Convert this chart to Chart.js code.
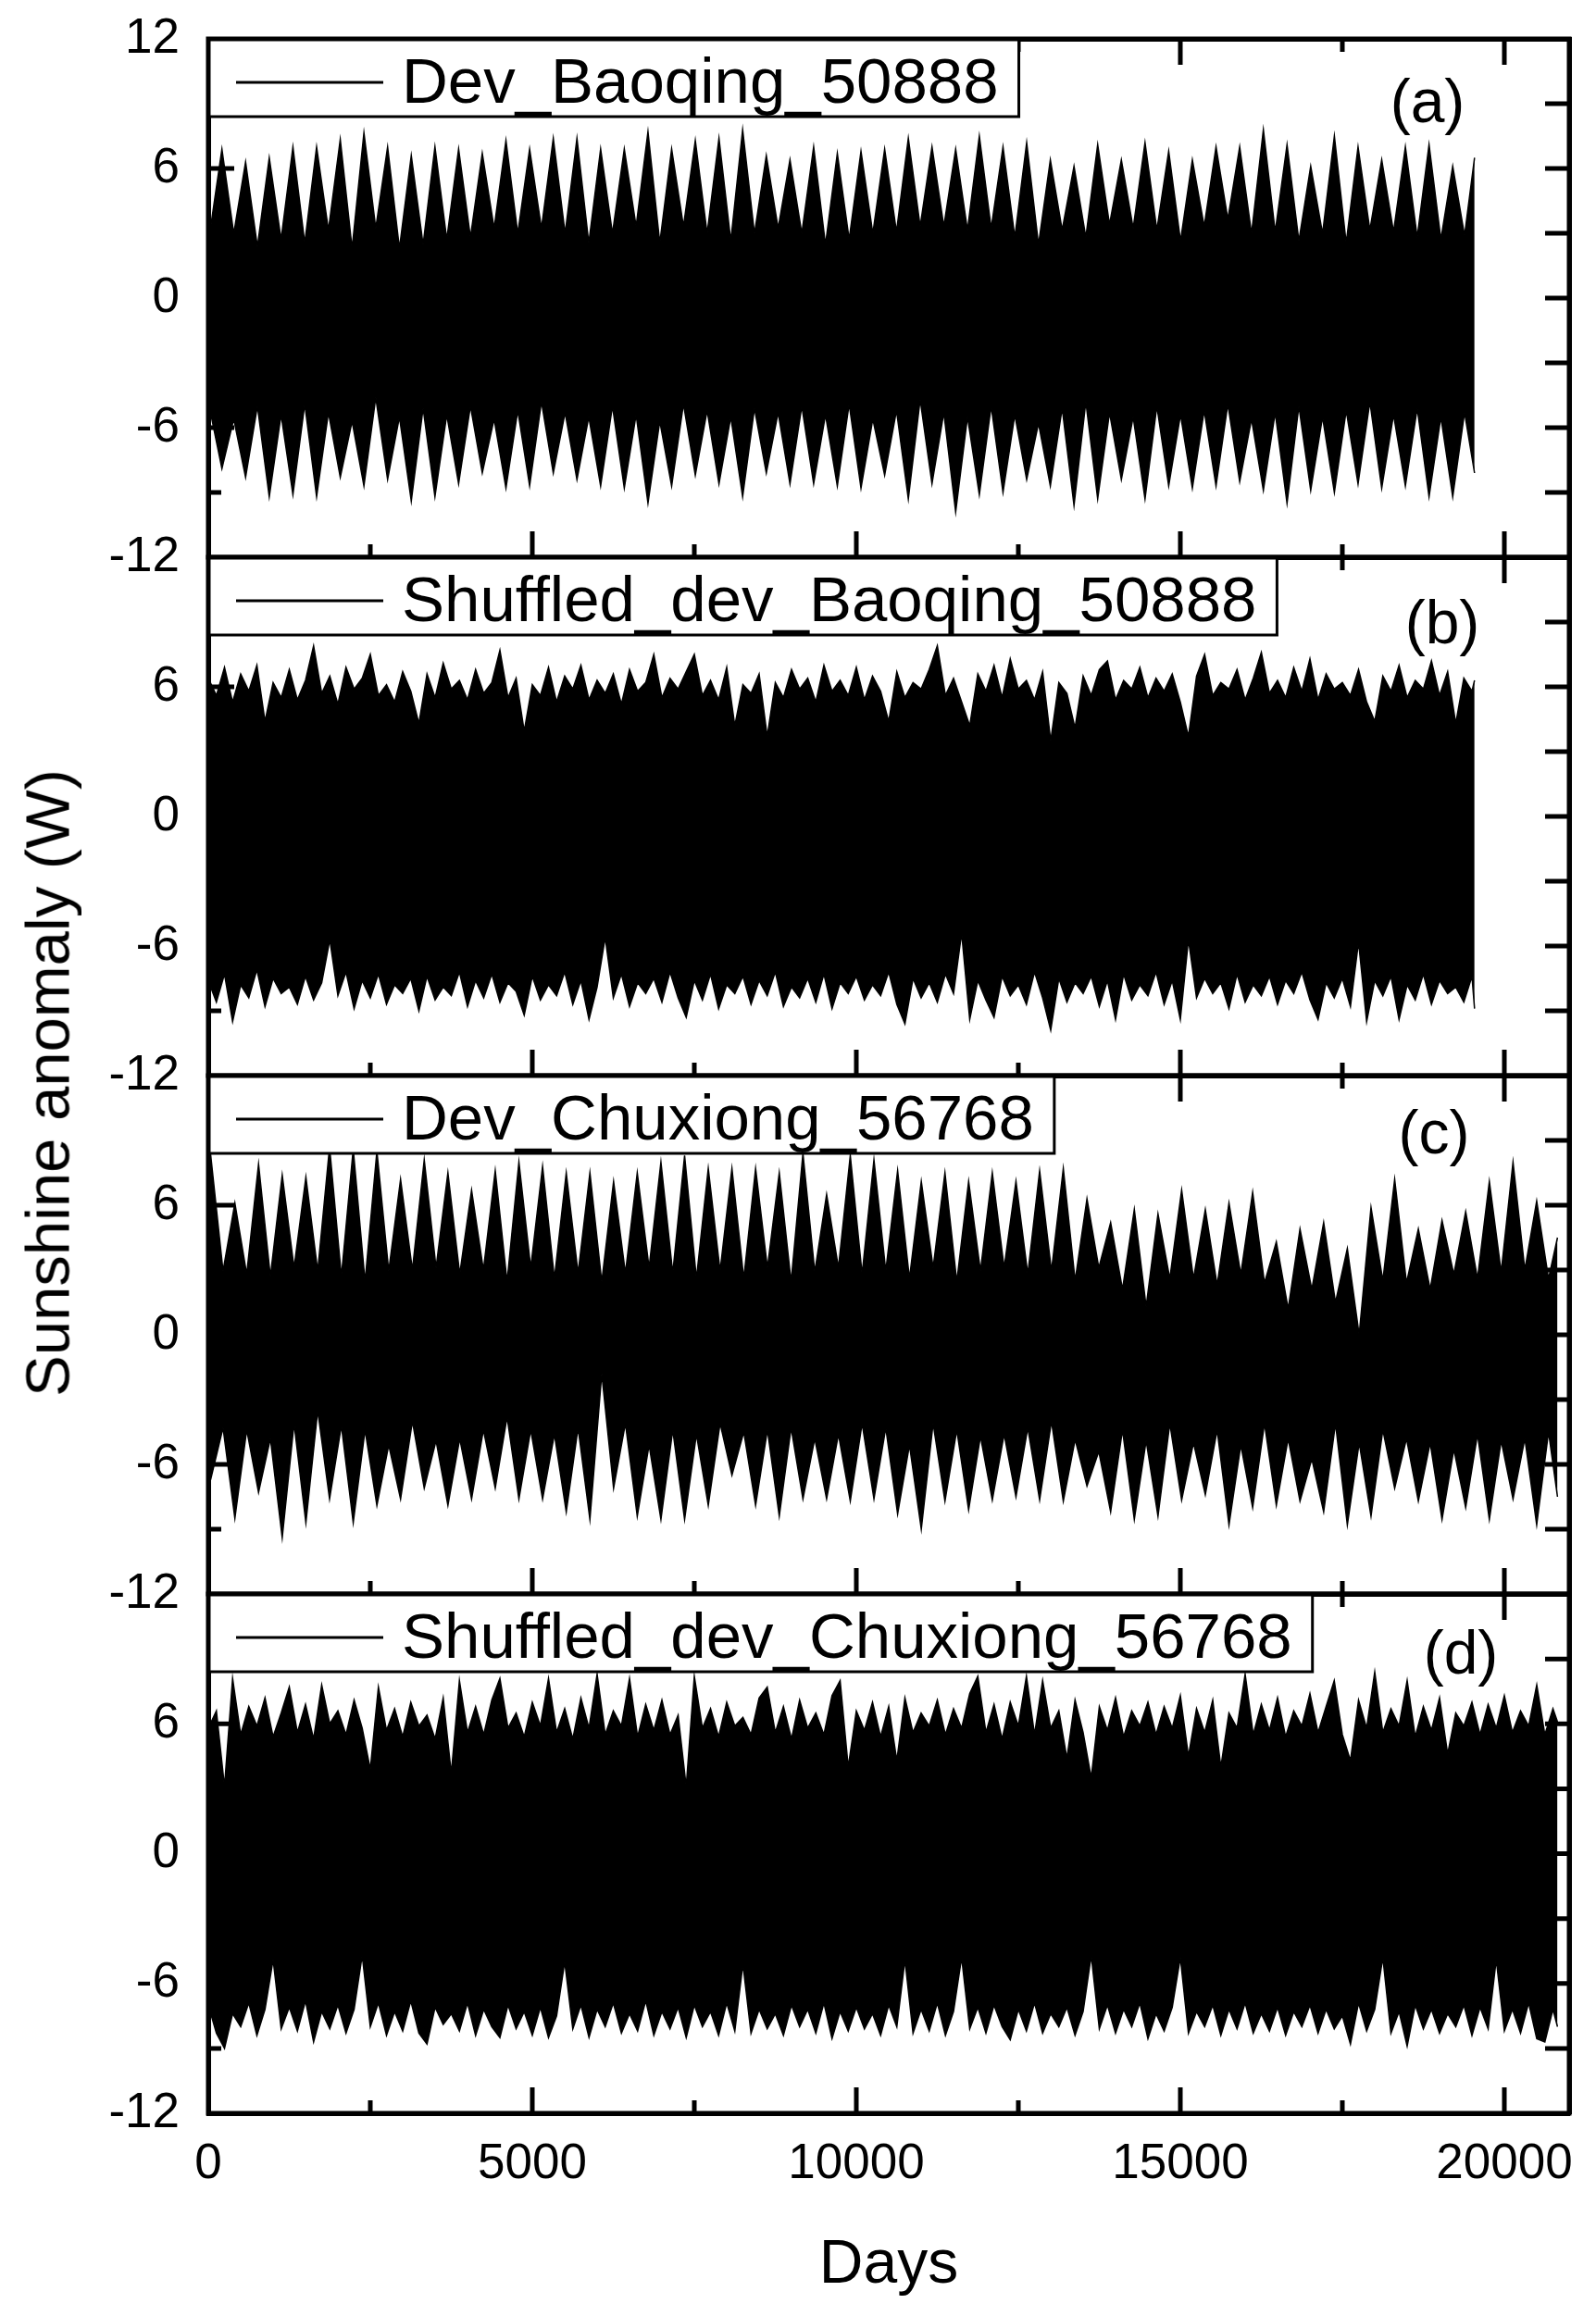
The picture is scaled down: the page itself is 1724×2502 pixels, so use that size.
<!DOCTYPE html>
<html>
<head>
<meta charset="utf-8">
<script src="https://cdn.jsdelivr.net/npm/chart.js@4.4.1/dist/chart.umd.min.js"></script>
<style>
html,body{margin:0;padding:0;background:#fff;}
#wrap{position:relative;width:1724px;height:2502px;overflow:hidden;background:#fff;}
canvas{position:absolute;left:0;top:0;}
.t{position:absolute;font-family:"Liberation Sans",Arial,Helvetica,sans-serif;color:#000;white-space:nowrap;line-height:1;}
</style>
</head>
<body>
<div id="wrap">
<canvas id="c0" width="1724" height="2502"></canvas>
<canvas id="c1" width="1724" height="2502"></canvas>
<canvas id="c2" width="1724" height="2502"></canvas>
<canvas id="c3" width="1724" height="2502"></canvas>
<div class="t" id="yt" style="left:51px;top:1170px;font-size:67px;transform:translate(-50%,-50%) rotate(-90deg);">Sunshine anomaly (W)</div>
<div class="t" id="xt" style="left:960px;top:2443px;font-size:66px;transform:translate(-50%,-50%);">Days</div>
</div>
<script>
// ---------------- data ----------------
const seriesNames = ['Dev_Baoqing_50888', 'Shuffled_dev_Baoqing_50888', 'Dev_Chuxiong_56768', 'Shuffled_dev_Chuxiong_56768'];
const panelLetters = ['(a)', '(b)', '(c)', '(d)'];
const xMajorTicks = [0, 5000, 10000, 15000, 20000];
const xMinorTicks = [2500, 7500, 12500, 17500];
const yMajorTicks = [-12, -6, 0, 6, 12];
const yMinorTicks = [-9, -3, 3, 9];

const baoqingDays = 19540;
const chuxiongDays = 20820;

// (a) seasonal envelope: yearly summer peaks and winter notches
const aUpperPeaks = [6.0, 6.9,6.3,6.5,7.0,7.0,7.35,7.65,7.0,6.6,7.0,6.9,6.7,7.3,6.9,7.4,7.4,6.9,6.9,7.7,6.9,7.3,7.4,7.8,6.6,6.4,
  7.0,6.7,6.8,6.9,7.4,7.0,6.9,7.5,7.0,7.2,6.4,6.1,7.1,6.4,7.2,6.8,6.4,7.0,7.0,7.8,7.1,6.1,7.5,7.0,6.4,7.0,7.1,6.1, 6.5];
const aUpperNotches = [3.1, 2.98,2.38,2.72,2.55,3.15,2.3,3.23,2.3,2.47,2.72,2.81,3.23,2.98,3.23,2.98,2.55,2.98,3.32,2.55,3.32,2.98,2.64,2.98,3.23,
  3.0, 2.47,2.72,2.98,3.06,3.32,3.32,3.15,3.23,2.81,2.47,3.15,2.81,3.4,3.23,3.15,2.64,3.32,3.66,2.98,3.06,2.64,2.98,2.55,3.15,3.06,2.81,2.72, 2.9];
const aLowerPeaks = [-8.9, -7.9,-8.3,-9.2,-9.1,-9.2,-8.3,-8.7,-8.4,-9.4,-9.2,-8.6,-8.1,-8.8,-8.7,-8.1,-8.4,-8.7,-8.8,-9.5,-8.7,-8.2,-8.6,-9.2,-8.1,-8.6,
  -8.6,-8.7,-8.8,-8.2,-9.3,-8.6,-9.9,-9.1,-9.0,-8.4,-8.7,-9.6,-9.3,-8.4,-9.3,-8.7,-8.8,-8.7,-8.5,-8.9,-9.5,-8.9,-9.0,-8.6,-8.8,-8.7,-9.2,-9.2, -8.1];
const aLowerNotches = [-5.2,-5.6,-5.0,-5.4,-4.9,-5.3,-5.7,-4.6,-5.5,-5.1,-5.4,-5.0,-5.6,-5.2,-4.8,-5.3,-5.5,-5.0,-5.4,-5.7,-4.9,-5.2,-5.5,-5.1,-5.3,
  -5.0,-5.4,-4.9,-5.6,-5.2,-4.7,-5.3,-5.5,-5.0,-5.4,-5.8,-5.1,-4.8,-5.3,-5.5,-5.0,-5.4,-5.2,-4.9,-5.6,-5.3,-5.0,-5.5,-5.2,-4.8,-5.4,-5.1,-5.5,-5.3];

// (b) shuffled Baoqing: envelope every 125 days
const bUpper = [6.4,5.6,6.9,5.3,6.6,5.8,7.0,4.4,6.2,5.5, 6.8,5.4,6.3,7.9,5.7,6.5,5.2,6.9,5.9,6.4,
  7.5,5.6,6.1,5.3,6.7,5.8,4.3,6.6,5.5,7.1, 5.9,6.3,5.4,6.8,5.7,6.2,7.7,5.5,6.4,3.95,
  6.1,5.6,6.9,5.3,6.5,5.9,7.0,5.4,6.3,5.7, 6.6,5.2,6.8,5.8,6.2,7.5,5.5,6.4,5.9,6.7,
  7.5,5.6,6.3,5.4,6.9,4.2,6.1,5.7,6.6,3.7, 6.2,5.5,6.8,5.9,6.4,5.3,7.0,5.8,6.3,5.6,
  6.9,5.4,6.5,5.8,4.4,6.7,5.5,6.2,5.9,6.8, 7.9,5.6,6.4,5.3,4.2,6.6,5.8,7.0,5.5,7.3,
  5.9,6.3,5.4,6.7,3.5,6.2,5.7,4.1,6.5,5.6, 6.8,7.2,5.4,6.3,5.9,6.9,5.5,6.4,5.8,6.6,
  5.3,3.7,6.5,7.5,5.6,6.2,5.9,6.8,5.4,6.4, 7.6,5.7,6.3,5.5,6.9,5.8,7.3,5.4,6.6,5.9,
  6.2,5.6,6.8,5.3,4.4,6.5,5.8,7.0,5.5,6.3, 5.9,7.2,5.6,6.7,4.3,6.4,5.8,6.3];
const bLower = [-7.6,-8.6,-7.3,-9.5,-7.8,-8.4,-7.1,-8.8,-7.5,-8.2, -7.9,-8.7,-7.4,-8.5,-7.7,-5.7,-8.3,-7.2,-8.9,-7.6,
  -8.4,-7.3,-8.7,-7.8,-8.2,-7.5,-9.0,-7.4,-8.5,-7.9, -8.3,-7.2,-8.8,-7.6,-8.4,-7.3,-8.6,-7.7,-8.1,-9.2,
  -7.4,-8.5,-7.8,-8.3,-7.2,-8.7,-7.6,-9.4,-7.9,-5.6, -8.4,-7.3,-8.8,-7.7,-8.2,-7.5,-8.6,-7.2,-8.4,-9.3,
  -7.6,-8.5,-7.3,-8.9,-7.8,-8.2,-7.4,-8.7,-7.6,-8.3, -7.2,-8.8,-7.9,-8.4,-7.5,-8.6,-7.3,-8.9,-7.7,-8.2,
  -7.4,-8.5,-7.8,-8.3,-7.2,-8.7,-9.6,-7.5,-8.4,-7.7, -8.6,-7.3,-8.2,-5.4,-9.4,-7.6,-8.5,-9.3,-7.4,-8.3,
  -7.8,-8.7,-7.2,-8.4,-9.9,-7.5,-8.6,-7.7,-8.2,-7.4, -8.8,-7.6,-9.4,-7.3,-8.5,-7.8,-8.3,-7.2,-8.7,-7.6,
  -9.4,-5.7,-8.4,-7.5,-8.2,-7.7,-8.9,-7.3,-8.6,-7.8, -8.3,-7.4,-8.7,-7.6,-8.2,-7.2,-8.5,-9.4,-7.7,-8.4,
  -7.5,-8.8,-5.8,-9.5,-7.6,-8.3,-7.4,-9.4,-7.8,-8.5, -7.3,-8.7,-7.6,-8.2,-7.9,-8.6,-7.4,-8.9];

// (c) seasonal envelope for Chuxiong: winter notches and spring peaks
const cUpperNotches = [3.0,2.95,2.8,2.7,3.1,2.95,2.7,2.45,2.95,3.0, 3.1,2.8,3.0,2.45,3.1,2.6,2.85,2.45,2.85,3.1,
  2.85,2.6,2.95,2.6,3.1,2.45, 2.9,3.1,2.8,2.95, 2.6,3.1,2.45,2.95,3.1,2.8,2.95,2.5,3.1,2.1,
  1.3,2.6,2.6,2.3,2.8,2.4,1.2,2.1,1.5,0.0, 2.5,2.4,2.1,2.8,2.6,2.9,3.0,2.6];
const cUpperPeaks = [8.1,6.1,7.9,7.4,7.3,8.7,8.6,8.5,7.2,8.1, 7.5,6.7,7.6,8.0,7.8,7.5,7.5,7.1,7.5,8.0,
  8.3,7.7,7.7,7.7,7.5,8.4,6.5,8.3,8.1,7.6, 7.1,7.5,7.1,7.5,7.1,7.6,7.7,6.3,5.2,5.8,
  5.6,6.7,5.8,6.1,6.6,4.3,4.9,5.2,4.0,5.9, 7.2,4.9,5.3,5.7,7.1,8.0,6.2,4.5];
const cLowerNotches = [-4.5,-4.3,-4.4,-4.8,-4.1,-3.5,-4.2,-4.4,-5.1,-4.0, -4.9,-4.8,-4.4,-3.8,-4.4,-4.6,-4.3,-1.8,-4.1,-5.1,
  -4.4,-4.6,-4.1,-4.5,-4.4,-4.3, -4.8,-4.6,-4.1,-4.3,-5.1,-4.1,-4.4,-4.7,-4.6,-4.3,-4.0,-4.85,-5.4,-4.4,
  -4.9,-4.1,-5.0,-4.4,-5.1,-4.1,-4.8,-5.75,-4.1,-5.0, -4.4,-4.8,-5.0,-5.3,-4.6,-4.9,-4.8,-4.5];
const cLowerPeaks = [-6.6,-8.5,-7.3,-9.4,-8.7,-7.6,-8.7,-7.9,-7.6,-7.1, -7.9,-7.6,-7.1,-7.6,-7.6,-8.2,-8.55,-7.1,-8.4,-8.55,
  -8.55,-7.9,-6.5,-7.9,-8.4,-7.6, -7.6,-7.7,-7.6,-8.3,-9.0,-7.7,-8.1,-7.65,-7.5,-7.65,-7.7,-7.0,-8.2,-8.55,
  -8.4,-7.65,-7.4,-8.8,-8.0,-7.9,-7.7,-8.2,-8.8,-8.4, -7.1,-7.7,-8.55,-8.0,-8.55,-7.6,-8.8,-7.5];

// (d) shuffled Chuxiong: envelope every 125 days
const dUpper = [5.8,6.6,3.1,8.1,5.5,6.8,5.9,7.2,5.4,6.5, 7.7,5.6,6.9,5.3,7.8,6.0,6.6,5.5,7.1,5.8,
  3.9,7.7,5.7,6.7,5.4,7.0,5.9,6.4,5.3,7.2, 3.7,8.0,5.6,6.8,5.5,7.1,8.1,5.8,6.5,5.4,
  7.0,5.9,8.1,5.6,6.7,5.3,7.2,5.8,8.3,5.5, 6.6,5.9,8.1,5.4,6.9,5.7,7.1,5.5,6.4,3.1,
  8.2,5.8,6.7,5.4,7.0,5.9,6.3,5.5,7.2,7.7, 5.6,6.8,5.3,7.1,5.8,6.5,5.5,7.3,8.0,4.0,
  6.6,5.7,7.0,5.4,6.8,4.3,7.2,5.6,6.5,5.9, 7.1,5.5,6.7,5.8,7.4,8.2,5.6,6.9,5.3,7.0,
  5.9,8.2,5.5,8.0,5.8,6.6,4.4,7.1,5.6,3.5, 6.8,5.7,7.2,5.4,6.6,5.9,7.0,5.5,6.8,5.8,
  7.3,4.5,6.7,5.6,7.1,4.0,6.5,5.8,8.3,5.5, 6.9,5.7,7.2,5.4,6.6,5.9,7.4,5.6,6.8,8.0,
  5.5,4.3,7.1,5.8,8.4,5.6,6.7,5.9,8.0,5.4, 6.8,5.7,7.2,4.6,6.5,5.9,7.0,5.5,6.9,5.8,
  7.3,5.6,6.6,5.9,7.8,5.5,6.7,6.1];
const dLower = [-7.0,-8.3,-9.0,-7.4,-8.0,-6.9,-8.4,-7.2,-4.9,-8.1, -7.1,-8.2,-6.8,-8.7,-7.3,-8.1,-7.0,-8.3,-7.2,-4.7,
  -8.0,-6.9,-8.4,-7.3,-8.2,-6.8,-8.3,-8.8,-7.1,-7.9, -7.4,-8.2,-6.9,-8.4,-7.2,-8.0,-8.5,-7.0,-8.1,-7.3,
  -8.4,-7.1,-8.5,-7.5,-5.0,-8.1,-7.0,-8.5,-7.2,-8.0, -6.9,-8.3,-7.4,-8.2,-6.8,-8.4,-7.3,-8.1,-7.1,-8.5,
  -7.0,-8.0,-7.3,-8.4,-6.9,-8.2,-5.1,-8.3,-7.2,-8.1, -7.4,-8.4,-7.0,-8.0,-7.2,-8.3,-6.9,-8.55,-7.3,-8.2,
  -7.1,-8.1,-7.4,-8.4,-7.0,-8.0,-4.9,-8.3,-7.2,-8.2, -6.9,-8.4,-7.3,-4.8,-8.1,-7.1,-8.3,-7.0,-8.0,-8.6,
  -7.2,-8.2,-6.9,-8.3,-7.4,-8.0,-7.1,-8.4,-7.3,-4.7, -8.1,-7.0,-8.3,-7.2,-8.0,-6.9,-8.55,-7.4,-8.2,-7.1,
  -4.8,-8.3,-7.3,-8.0,-7.0,-8.4,-7.2,-8.1,-6.9,-8.3, -7.4,-8.2,-7.1,-8.4,-7.3,-8.0,-7.0,-8.3,-7.2,-8.1,
  -7.5,-8.8,-6.9,-8.2,-7.2,-4.8,-8.3,-7.3,-8.9,-7.0, -8.1,-7.2,-8.3,-7.4,-8.0,-7.0,-8.4,-7.1,-8.1,-4.9,
  -8.2,-7.2,-8.3,-6.9,-8.55,-8.7,-7.2,-8.0];

// ---------------- building the point lists ----------------
const HALF_YEAR = 365.25 / 2;
const SHUFFLE_STEP = 125;
function interleave(first, second, start, step, end) {
  const out = [];
  const n = first.length + second.length;
  for (let i = 0; i < n; i++) {
    const y = (i % 2 === 0) ? first[i >> 1] : second[i >> 1];
    out.push({ x: Math.min(start + i * step, end), y: y });
  }
  return out;
}
function evenly(values, step, end) {
  return values.map((y, i) => ({ x: Math.min(i * step, end), y: y }));
}

// ---------------- layout / style ----------------
const FONT = '"Liberation Sans", Arial, Helvetica, sans-serif';
const W = 1724, H = 2502;
const PLOT_LEFT = 225, PLOT_RIGHT = 1695;
Chart.defaults.font.family = FONT;
Chart.defaults.color = '#000';

const panels = [
  { id: 'c0', top: 42, bottom: 602, name: seriesNames[0], letter: panelLetters[0], lx: 1542, ly: 72, first: true, last: false,
    upper: interleave(aUpperPeaks, aUpperNotches, -155, HALF_YEAR, baoqingDays),
    lower: interleave(aLowerPeaks, aLowerNotches, -155, HALF_YEAR, baoqingDays) },
  { id: 'c1', top: 602, bottom: 1162, name: seriesNames[1], letter: panelLetters[1], lx: 1558, ly: 75, first: false, last: false,
    upper: evenly(bUpper, SHUFFLE_STEP, baoqingDays),
    lower: evenly(bLower, SHUFFLE_STEP, baoqingDays) },
  { id: 'c2', top: 1162, bottom: 1722, name: seriesNames[2], letter: panelLetters[2], lx: 1549, ly: 66, first: false, last: false,
    upper: interleave(cUpperNotches, cUpperPeaks, -137.6, HALF_YEAR, chuxiongDays),
    lower: interleave(cLowerNotches, cLowerPeaks, -137.6, HALF_YEAR, chuxiongDays) },
  { id: 'c3', top: 1722, bottom: 2283, name: seriesNames[3], letter: panelLetters[3], lx: 1578, ly: 68, first: false, last: true,
    upper: evenly(dUpper, SHUFFLE_STEP, chuxiongDays),
    lower: evenly(dLower, SHUFFLE_STEP, chuxiongDays) }
];

function zeroPad(s) { s.paddingLeft = 0; s.paddingRight = 0; s.paddingTop = 0; s.paddingBottom = 0; }

const decoPlugin = {
  id: 'deco',
  afterDraw(chart) {
    const o = chart.options.plugins.deco;
    const ctx = chart.ctx, ca = chart.chartArea;
    const xs = chart.scales.x, ys = chart.scales.y;
    ctx.save();
    // inward ticks
    ctx.strokeStyle = '#000';
    ctx.lineCap = 'butt';
    ctx.lineWidth = 5;
    ctx.beginPath();
    xMajorTicks.concat(xMinorTicks).forEach(v => {
      if (v <= xs.min || v >= xs.max) return;
      const px = xs.getPixelForValue(v);
      const len = xMajorTicks.includes(v) ? 28 : 14;
      ctx.moveTo(px, ca.bottom); ctx.lineTo(px, ca.bottom - len);
      ctx.moveTo(px, ca.top); ctx.lineTo(px, ca.top + len);
    });
    yMajorTicks.concat(yMinorTicks).forEach(v => {
      if (v <= ys.min || v >= ys.max) return;
      const py = ys.getPixelForValue(v);
      const len = yMajorTicks.includes(v) ? 28 : 14;
      ctx.moveTo(ca.left, py); ctx.lineTo(ca.left + len, py);
      ctx.moveTo(ca.right, py); ctx.lineTo(ca.right - 26, py);
    });
    ctx.stroke();
    // legend box
    const label = chart.data.datasets[0].label;
    ctx.font = '69px ' + FONT;
    const tw = ctx.measureText(label).width;
    const bx = ca.left, by = ca.top, bw = 209 + tw + 22, bh = 84;
    ctx.fillStyle = '#fff';
    ctx.fillRect(bx, by, bw, bh);
    ctx.lineWidth = 3;
    ctx.strokeRect(bx, by, bw, bh);
    ctx.beginPath();
    ctx.moveTo(bx + 30, by + 47); ctx.lineTo(bx + 189, by + 47);
    ctx.stroke();
    ctx.fillStyle = '#000';
    ctx.textAlign = 'left';
    ctx.textBaseline = 'alphabetic';
    ctx.fillText(label, bx + 209, by + 69);
    // panel letter
    ctx.font = '66px ' + FONT;
    ctx.textAlign = 'center';
    ctx.textBaseline = 'middle';
    ctx.fillText(o.letter, o.lx, ca.top + o.ly);
    // frame
    ctx.lineWidth = 5;
    ctx.strokeRect(ca.left, ca.top, ca.right - ca.left, ca.bottom - ca.top);
    ctx.restore();
  }
};

panels.forEach(p => {
  const borderOpts = { display: true, color: '#000', width: 5 };
  const xHeight = p.last ? (H - p.bottom) : 0;
  new Chart(document.getElementById(p.id), {
    type: 'line',
    data: {
      datasets: [
        { label: p.name, data: p.upper, borderColor: '#000', backgroundColor: '#000', borderWidth: 1.5,
          pointRadius: 0, fill: '+1', tension: 0, clip: 0 },
        { label: p.name + ' lower', data: p.lower, borderColor: '#000', backgroundColor: '#000', borderWidth: 1.5,
          pointRadius: 0, fill: false, tension: 0, clip: 0 }
      ]
    },
    options: {
      responsive: false, animation: false, devicePixelRatio: 1, events: [],
      parsing: false, normalized: true,
      layout: { autoPadding: false, padding: { left: 0, right: 0, top: p.top, bottom: H - p.bottom - xHeight } },
      plugins: {
        legend: { display: false }, tooltip: { enabled: false },
        deco: { letter: p.letter, lx: p.lx, ly: p.ly }
      },
      scales: {
        x: {
          type: 'linear', position: 'bottom', min: 0, max: 21000,
          afterBuildTicks: s => { s.ticks = xMajorTicks.map(v => ({ value: v })); },
          afterFit: s => { s.height = xHeight; zeroPad(s); },
          grid: { display: false, drawTicks: false },
          border: borderOpts,
          ticks: { display: p.last, color: '#000', font: { family: FONT, size: 53 }, padding: 24,
                   maxRotation: 0, minRotation: 0, autoSkip: false, callback: v => String(v) }
        },
        xTop: {
          type: 'linear', position: 'top', min: 0, max: 21000,
          afterFit: s => { s.height = 0; zeroPad(s); },
          grid: { display: false, drawTicks: false },
          border: borderOpts,
          ticks: { display: false }
        },
        y: {
          type: 'linear', position: 'left', min: -12, max: 12,
          afterBuildTicks: s => { s.ticks = yMajorTicks.map(v => ({ value: v })); },
          afterFit: s => { s.width = PLOT_LEFT; zeroPad(s); },
          grid: { display: false, drawTicks: false },
          border: borderOpts,
          ticks: { color: '#000', font: { family: FONT, size: 53 }, padding: 31,
                   callback: v => (v === 12 && !p.first) ? null : String(v) }
        },
        yRight: {
          type: 'linear', position: 'right', min: -12, max: 12,
          afterFit: s => { s.width = W - PLOT_RIGHT; zeroPad(s); },
          grid: { display: false, drawTicks: false },
          border: borderOpts,
          ticks: { display: false }
        }
      }
    },
    plugins: [decoPlugin]
  });
});
</script>
</body>
</html>
